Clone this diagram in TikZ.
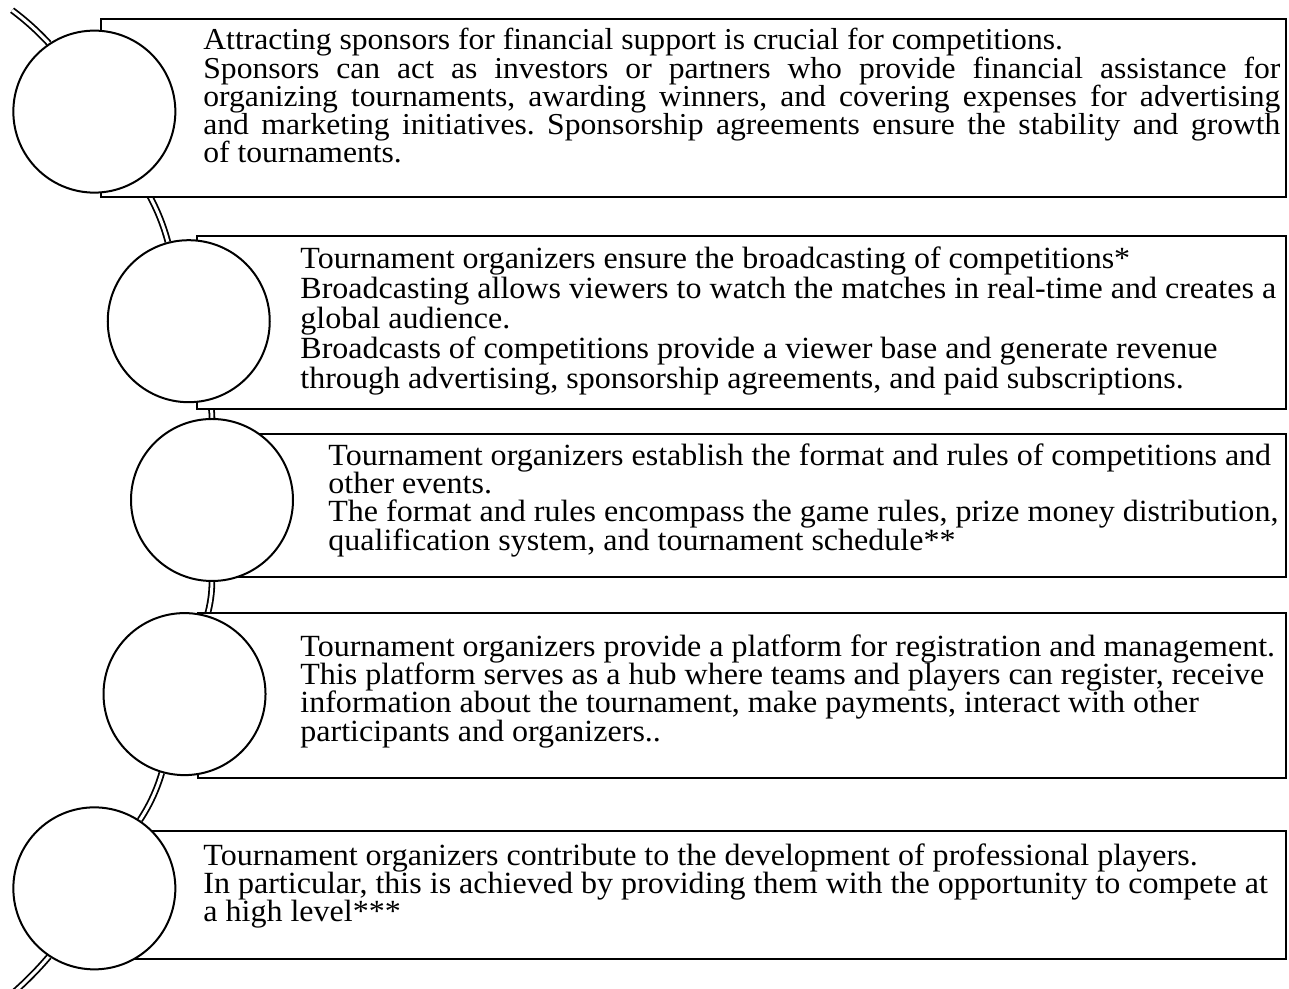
\documentclass[tikz,border=0pt]{standalone}
\usepackage{fontspec}
\setmainfont{Liberation Serif}[FakeStretch = 1.04]
\usepackage{tikz}
\usetikzlibrary{calc, backgrounds}
\tikzstyle{Rail} = [
%Create double rail style:
draw,
line width = 0.9pt,
double = white,
double distance = 1.5pt,
looseness = 0.85
]
\setlength{\parindent}{0pt}
\setlength{\lineskiplimit}{-10pt}
\frenchspacing

\begin{document}
\begin{tikzpicture}[
				x = 0.5pt, y = 0.5pt,
				card/.style = {rectangle, draw, fill = white, line width = 1pt, anchor = north west, inner sep = 0pt},
				dot/.style = {circle, draw, fill = white, line width = 1pt, minimum size = 81pt, inner sep = 0pt},
				body/.style = {anchor = north west, inner sep = 0pt, align = left, font = \fontsize{15.4}{14.2}\selectfont},
			]
			\useasboundingbox (0,0) rectangle (1289,989);
			\coordinate(hub) at (-488,489);

			\node[card, minimum width = 592.5pt, minimum height = 89pt](B1) at (100,971){};
			\node[card, minimum width = 544.5pt, minimum height = 86.5pt](B2) at (196,754){};
			\node[card, minimum width = 542.5pt, minimum height = 71.5pt](B3) at (200,556){};
			\node[card, minimum width = 544pt, minimum height = 82.5pt](B4) at (197,377){};
			\node[card, minimum width = 592.5pt, minimum height = 64pt](B5) at (100,159){};

			\node[body, text width = 538.5pt, align = justify, font = \fontsize{15.2}{14.15}\selectfont](T1) at (203,961){Attracting sponsors for financial support is crucial for competitions.\\Sponsors can act as investors or partners who provide financial assistance for\linebreak organizing tournaments, awarding winners, and covering expenses for advertising\linebreak and marketing initiatives. Sponsorship agreements ensure the stability and growth\linebreak of tournaments.};
			\node[body, font = \fontsize{15.4}{15}\selectfont](T2) at (300,743){Tournament organizers ensure the broadcasting of competitions*\\Broadcasting allows viewers to watch the matches in real-time and creates a\\global audience.\\Broadcasts of competitions provide a viewer base and generate revenue\\through advertising, sponsorship agreements, and paid subscriptions.};
			\node[body](T3) at (328,546){Tournament organizers establish the format and rules of competitions and\\other events.\\The format and rules encompass the game rules, prize money distribution,\\qualification system, and tournament schedule**};
			\node[body](T4) at (300,355){Tournament organizers provide a platform for registration and management.\\This platform serves as a hub where teams and players can register, receive\\information about the tournament, make payments, interact with other\\participants and organizers..};
			\node[body](T5) at (203,146){Tournament organizers contribute to the development of professional players.\\In particular, this is achieved by providing them with the opportunity to compete at\\a high level***};

			\node[dot](C1) at ($(hub)+(33.7:700)$){};
			\node[dot](C2) at ($(hub)+(14.8:700)$){};
			\node[dot](C3) at ($(hub)+(0:700)$){};
			\node[dot](C4) at ($(hub)+(-16.1:700)$){};
			\node[dot](C5) at ($(hub)+(-33.7:700)$){};
			\coordinate(RT) at ($(hub)+(44.4:700)$);
			\coordinate(RB) at ($(hub)+(-47:700)$);

			\begin{scope}[on background layer]
				\draw[Rail](RT) to[bend left = 5.4] (C1);
				\draw[Rail](C1) to[bend left = 9.5] (C2);
				\draw[Rail](C2) to[bend left = 7.4] (C3);
				\draw[Rail](C3) to[bend left = 8] (C4);
				\draw[Rail](C4) to[bend left = 8.8] (C5);
				\draw[Rail](C5) to[bend left = 6.7] (RB);
			\end{scope}

		\end{tikzpicture}
\end{document}
